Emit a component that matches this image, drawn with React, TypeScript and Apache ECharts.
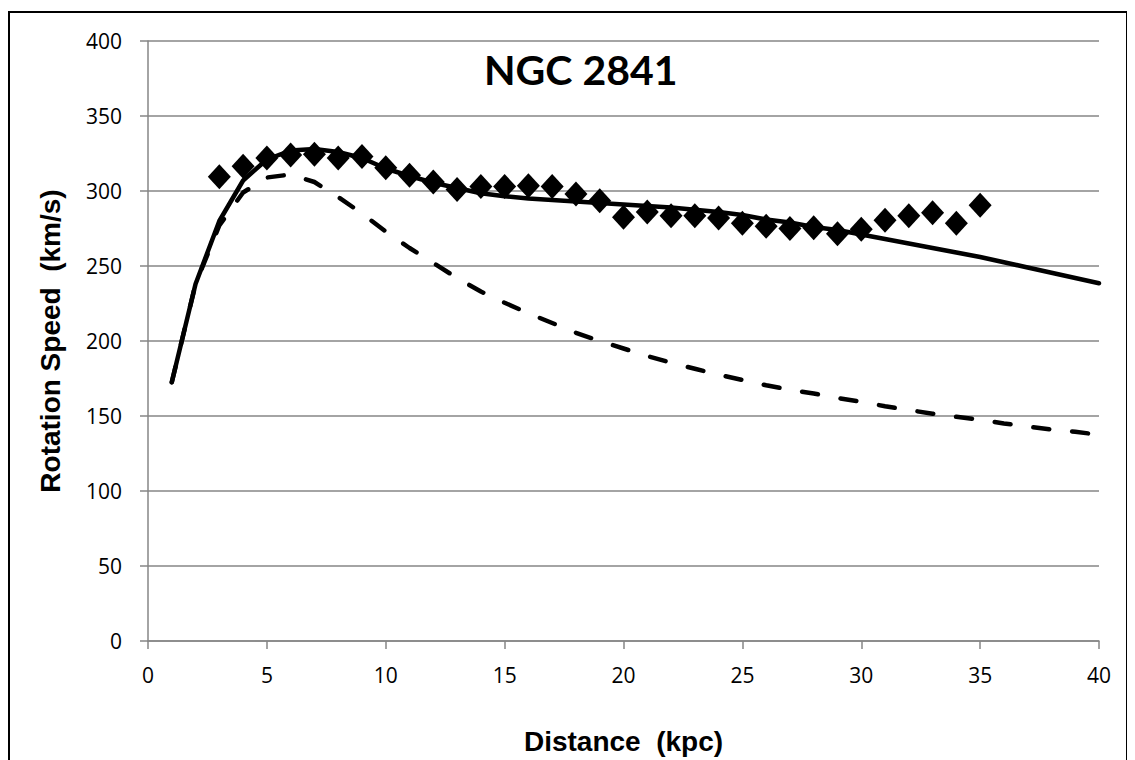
import React, { useEffect, useRef } from "react";
import * as echarts from "echarts";

const distances: number[] = [1, 2, 3, 4, 5, 6, 7, 8, 9, 10, 11, 12, 13, 14, 15, 16, 17, 18, 19, 20, 21, 22, 23, 24, 25, 26, 27, 28, 29, 30, 31, 32, 33, 34, 35, 36, 37, 38, 39, 40];
const modelTotal: number[] = [172.5, 238, 280, 307, 321, 327, 328, 326, 322, 315, 310, 305.5, 302, 298.5, 296.5, 295, 294, 293, 292, 291, 290, 289, 287.5, 286, 284, 281, 279, 276, 274, 271, 268, 265, 262, 259, 256, 252.5, 249, 245.5, 242, 238.5];
const modelVisible: number[] = [172.5, 238, 277, 299, 309, 311, 306, 296, 285, 273, 262, 252, 242, 233, 225.5, 218.5, 212, 205.5, 200, 195, 190, 185.5, 181.5, 177.5, 174, 170.5, 167.5, 165, 162, 159.5, 156.5, 154, 151.5, 149.5, 147.5, 145, 143, 141, 139.5, 137.5];
const obsDistances: number[] = [3, 4, 5, 6, 7, 8, 9, 10, 11, 12, 13, 14, 15, 16, 17, 18, 19, 20, 21, 22, 23, 24, 25, 26, 27, 28, 29, 30, 31, 32, 33, 34, 35];
const obsSpeeds: number[] = [309.5, 316.5, 322, 324, 324.5, 322, 323, 315.5, 310.5, 306, 301, 303, 303, 303.5, 303, 298, 293.5, 282.5, 286, 283.5, 283.5, 282, 278.5, 276.5, 275, 275.5, 271.5, 274.5, 280.5, 283.5, 285.5, 278.5, 290.5];

const titleText = "NGC 2841";
const xName = "Distance  (kpc)";
const yName = "Rotation Speed  (km/s)";

export default function App() {
  const ref = useRef<HTMLDivElement>(null);
  useEffect(() => {
    if (!ref.current) return;
    const chart = echarts.init(ref.current, null, { renderer: "svg" });
    const grey = "#868686";
    const labelFont = { color: "#000", fontFamily: "Open Sans", fontSize: 21 };
    const nameFont = { fontFamily: "Liberation Sans", fontWeight: "bold", fontSize: 28, color: "#000" };
    chart.setOption({
      animation: false,
      backgroundColor: "#fff",
      grid: { left: 140, top: 33, right: 36, bottom: 119, containLabel: false },
      graphic: [
        {
          type: "rect",
          shape: { x: 1, y: 4, width: 1118, height: 800 },
          style: { fill: "none", stroke: "#000", lineWidth: 2 },
          silent: true,
          z: -1,
        },
        {
          type: "text",
          x: 476,
          y: 61,
          style: {
            text: titleText,
            fontFamily: "Lato",
            fontWeight: "bold",
            fontSize: 41,
            fill: "#000",
            verticalAlign: "middle",
            align: "left",
          },
          z: 10,
        },
      ],
      xAxis: {
        type: "value",
        min: 0,
        max: 40,
        interval: 5,
        name: xName,
        nameLocation: "middle",
        nameGap: 86,
        nameTextStyle: nameFont,
        axisLine: { show: true, onZero: false, lineStyle: { color: grey, width: 1.5 } },
        axisTick: { show: true, inside: false, length: 8, lineStyle: { color: grey, width: 1.5 } },
        axisLabel: { ...labelFont, margin: 23 },
        splitLine: { show: false },
      },
      yAxis: {
        type: "value",
        min: 0,
        max: 400,
        interval: 50,
        name: yName,
        nameLocation: "middle",
        nameGap: 84,
        nameTextStyle: nameFont,
        axisLine: { show: true, lineStyle: { color: grey, width: 1.5 } },
        axisTick: { show: true, inside: false, length: 8, lineStyle: { color: grey, width: 1.5 } },
        axisLabel: { ...labelFont, margin: 26 },
        splitLine: { show: true, lineStyle: { color: grey, width: 1.5 } },
      },
      series: [
        {
          type: "line",
          data: distances.map((d, i) => [d, modelVisible[i]]),
          showSymbol: false,
          symbol: "none",
          lineStyle: { color: "#000", width: 4.5, type: [16, 23], cap: "round" },
          z: 2,
        },
        {
          type: "line",
          data: distances.map((d, i) => [d, modelTotal[i]]),
          showSymbol: false,
          symbol: "none",
          lineStyle: { color: "#000", width: 4.5, cap: "round", join: "round" },
          z: 3,
        },
        {
          type: "scatter",
          data: obsDistances.map((d, i) => [d, obsSpeeds[i]]),
          symbol: "diamond",
          symbolSize: [23, 25],
          itemStyle: { color: "#000", opacity: 1 },
          z: 4,
        },
      ],
    });
    return () => chart.dispose();
  }, []);
  return <div ref={ref} style={{ width: 1127, height: 752 }} />;
}
